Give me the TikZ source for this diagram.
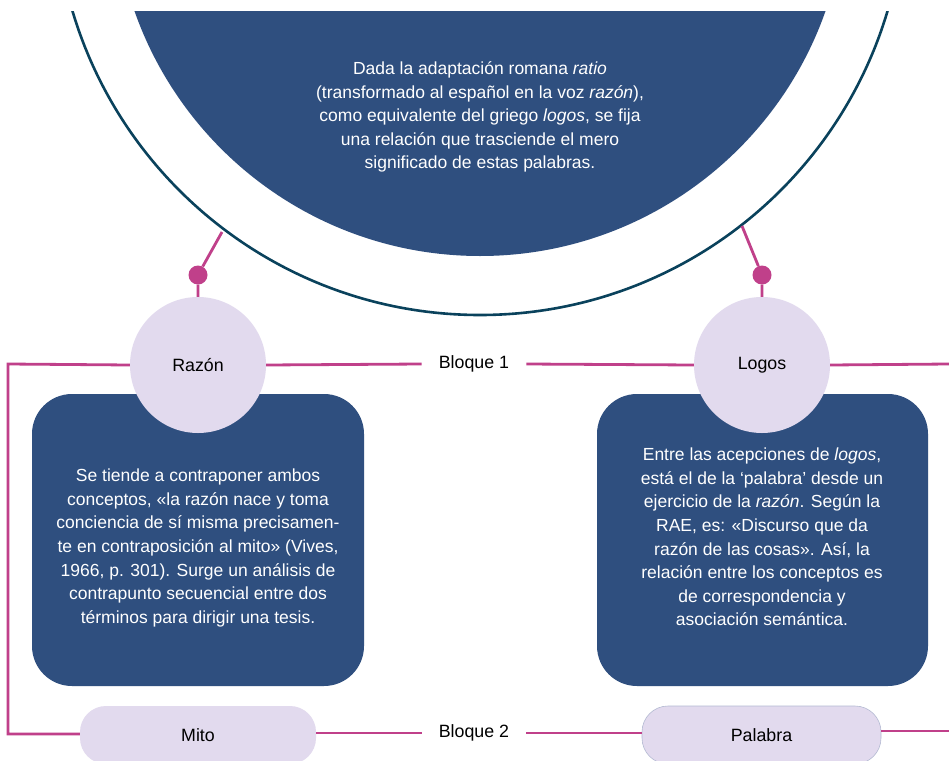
\documentclass[tikz,border=0pt]{standalone}
\usepackage{fontspec}
\setmainfont{Liberation Sans}
\definecolor{deepblue}{RGB}{47,79,127}
\definecolor{ringcol}{RGB}{10,66,92}
\definecolor{pinkline}{RGB}{192,64,138}
\definecolor{lav}{RGB}{226,218,238}
\definecolor{pillborder}{RGB}{180,186,210}
\tikzset{
  conn/.style={draw=pinkline, line width=2.8pt},
  bigtext/.style={text=white, align=center, font=\fontsize{17.5}{23.6}\selectfont},
  lbl/.style={text=black, font=\fontsize{17.8}{21}\selectfont},
  conceptcirc/.style={circle, fill=lav, minimum size=136pt, inner sep=0pt, lbl},
  pill/.style={rectangle, rounded corners=26pt, fill=lav, minimum width=236pt, minimum height=58pt, inner sep=0pt, lbl},
  bluebox/.style={rectangle, rounded corners=40pt, fill=deepblue, inner sep=0pt},
  dotnode/.style={circle, fill=pinkline, minimum size=19pt, inner sep=0pt},
  bloque/.style={lbl, inner xsep=17pt, inner ysep=2pt}
}
\begin{document}
\begin{tikzpicture}[x=1pt,y=-1pt]
\path[use as bounding box] (0,0) rectangle (949,760);
\fill[white] (0,0) rectangle (949,760);
\clip (0,12) rectangle (949,760);
% big semicircle
\draw[ringcol, line width=2.6pt] (480,-110) circle[radius=425];
\fill[deepblue] (480,-110) circle[radius=366];
\node[bigtext] (toptext) at (480,117) {Dada la adaptación romana \textit{ratio}\\(transformado al español en la voz \textit{razón}),\\como equivalente del griego \textit{logos}, se fija\\una relación que trasciende el mero\\significado de estas palabras.};
% anchor points on the ring
\coordinate (aL) at (222,232);
\coordinate (aR) at (742,226);
% blue boxes
\node[bluebox, minimum width=332pt, minimum height=292pt] (boxL) at (198,540) {};
\node[bluebox, minimum width=331pt, minimum height=292pt] (boxR) at (762.5,540) {};
% concept circles
\node[conceptcirc] (razon) at (198,365) {Razón};
\node[conceptcirc] (logos) at (762,365) {Logos};
% dots
\node[dotnode] (dotL) at (198,275) {};
\node[dotnode] (dotR) at (762,275) {};
\draw[conn] (aL) -- (dotL) -- (razon);
\draw[conn] (aR) -- (dotR) -- (logos);
% box texts
\node[bigtext] (txtL) at (198,548) {Se tiende a contraponer ambos\\conceptos, «la razón nace y toma\\conciencia de sí misma precisamen-\\te en contraposición al mito» (Vives,\\1966, p. 301). Surge un análisis de\\contrapunto secuencial entre dos\\términos para dirigir una tesis.};
\node[bigtext] (txtR) at (762,537) {Entre las acepciones de \textit{logos},\\está el de la ‘palabra’ desde un\\ejercicio de la \textit{razón}. Según la\\RAE, es: «Discurso que da\\razón de las cosas». Así, la\\relación entre los conceptos es\\de correspondencia y\\asociación semántica.};
% pills
\node[pill] (mito) at (198,735) {Mito};
\node[pill, draw=pillborder, line width=0.6pt, minimum width=239pt] (palabra) at (761.5,735) {Palabra};
% bloque labels
\node[bloque] (b1) at (474,364) {Bloque 1};
\node[bloque] (b2) at (474,733) {Bloque 2};
% frame coordinates
\coordinate (cTL) at (8,364);
\coordinate (cBL) at (8,734);
\coordinate (eR1) at (949,364);
\coordinate (eR2) at (949,731);
% horizontal lines
\draw[conn] (razon.east) -- (b1.west);
\draw[conn] (b1.east) -- (logos.west);
\draw[conn] (logos.east) -- (eR1);
\draw[conn] (razon.west) -- (cTL) -- (cBL) -- (mito.west |- cBL);
\draw[conn] (mito.east |- b2) -- (b2.west);
\draw[conn] (b2.east) -- (palabra.west |- b2);
\draw[conn] (palabra.east |- eR2) -- (eR2);
\end{tikzpicture}
\end{document}
